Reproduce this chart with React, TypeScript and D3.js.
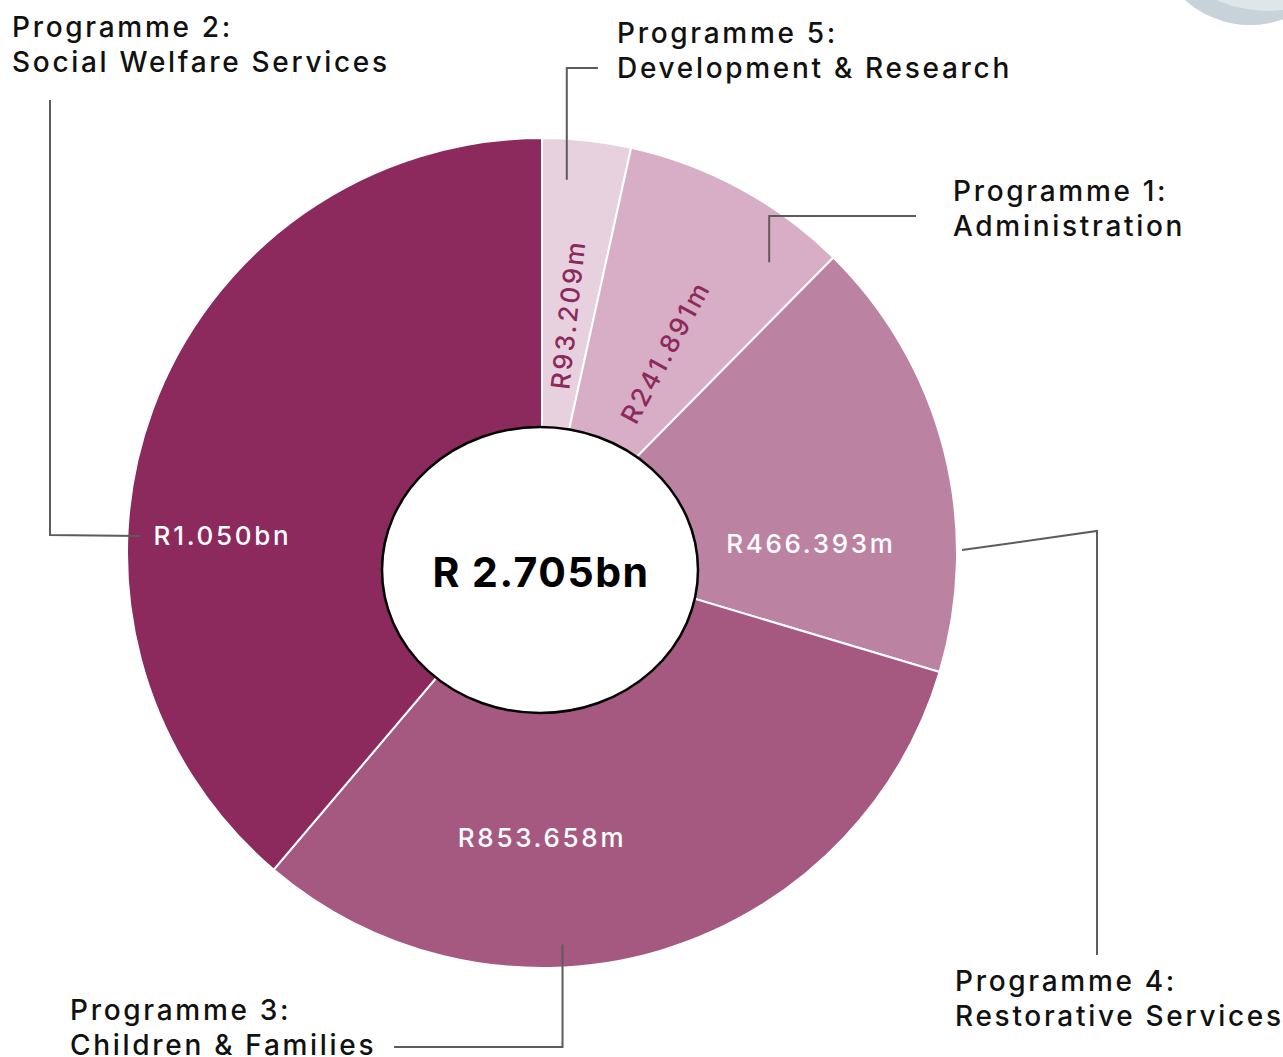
import * as d3 from "d3";

// Budget per programme, R million, in drawing order (clockwise from 12 o'clock)
const programmes = ["Programme 5", "Programme 1", "Programme 4", "Programme 3", "Programme 2"];
const subtitles = [
  "Development & Research",
  "Administration",
  "Restorative Services",
  "Children & Families",
  "Social Welfare Services",
];
const amounts = [93.209, 241.891, 466.393, 853.658, 1050.0];
const amountLabels = ["R93.209m", "R241.891m", "R466.393m", "R853.658m", "R1.050bn"];
const totalLabel = "R 2.705bn";

const W = 1283;
const H = 1057;
const CX = 542;
const CY = 553;
const R = 415;
const FONT = "Inter, 'Noto Sans', sans-serif";

const color = d3
  .scaleOrdinal<string, string>()
  .domain(programmes)
  .range(["#e8d1de", "#d7aec5", "#bc82a2", "#a65980", "#8c295d"]);

// dark labels on the two pale slices
const labelFill = (p: string) =>
  p === "Programme 5" || p === "Programme 1" ? "#8c295d" : "#ffffff";

const rad = (deg: number) => (deg * Math.PI) / 180;
const polar = (deg: number, r: number): [number, number] => [
  CX + r * Math.sin(rad(deg)),
  CY - r * Math.cos(rad(deg)),
];

// where the name labels sit and how the leader lines run to the pie
const nameLayout: Record<string, { x: number; y: number }> = {
  "Programme 5": { x: 617, y: 43 },
  "Programme 1": { x: 953, y: 201 },
  "Programme 4": { x: 955, y: 991 },
  "Programme 3": { x: 70, y: 1020 },
  "Programme 2": { x: 12, y: 37 },
};

const leader = (p: string): [number, number][] => {
  switch (p) {
    case "Programme 5": {
      const a = polar(3.8, 374);
      return [a, [a[0], 68], [598, 68]];
    }
    case "Programme 1": {
      const a = polar(38, 369);
      return [a, [a[0], 216], [916, 216]];
    }
    case "Programme 4": {
      const a = polar(89.6, 420);
      return [a, [1097, 531], [1097, 955]];
    }
    case "Programme 3": {
      const a = polar(177, 392);
      return [a, [a[0], 1047], [394, 1047]];
    }
    default:
      return [[50, 100], [50, 535], [140, 536]];
  }
};

// value labels: radial on the thin slices, flat elsewhere
const valuePos = (p: string, mid: number) => {
  if (p === "Programme 5") return { at: polar(mid, 240), rot: mid - 90 };
  if (p === "Programme 1") return { at: polar(mid + 3, 236), rot: mid - 90 };
  if (p === "Programme 4") return { at: polar(88, 269), rot: 0 };
  if (p === "Programme 3") return { at: polar(180, 284), rot: 0 };
  return { at: polar(273.2, 320), rot: 0 };
};

export default function App() {
  const pie = d3
    .pie<number>()
    .sort(null)
    .value((d) => d);
  const arcs = pie(amounts);
  const arc = d3.arc<d3.PieArcDatum<number>>().innerRadius(0).outerRadius(R);
  const line = d3.line();

  return (
    <div style={{ position: "absolute", left: 0, top: 0, width: W, height: H, background: "#fff" }}>
      <svg width={W} height={H} style={{ display: "block" }} fontFamily={FONT}>
        {/* decorative ring in the top-right corner */}
        <circle cx={1250} cy={-72} r={97} fill="#c7d2d9" />
        <circle cx={1268} cy={-115} r={126} fill="#dfe6ea" />

        <g transform={`translate(${CX},${CY})`}>
          {arcs.map((a, i) => (
            <path
              key={programmes[i]}
              d={arc(a) ?? ""}
              fill={color(programmes[i])}
              stroke="#ffffff"
              strokeWidth={2}
              strokeLinejoin="round"
            />
          ))}
        </g>

        {/* leader lines */}
        {programmes.map((p) => (
          <path
            key={`l-${p}`}
            d={line(leader(p)) ?? ""}
            fill="none"
            stroke="#5c5c5c"
            strokeWidth={2}
          />
        ))}

        {/* centre disc */}
        <ellipse cx={540} cy={570} rx={158} ry={143} fill="#ffffff" stroke="#000" strokeWidth={2.5} />
        <text
          x={541}
          y={587}
          textAnchor="middle"
          fontSize={41}
          fontWeight={700}
          letterSpacing={1.5}
          fill="#000"
        >
          {totalLabel}
        </text>

        {/* values inside slices */}
        {arcs.map((a, i) => {
          const p = programmes[i];
          const mid = ((a.startAngle + a.endAngle) / 2) * (180 / Math.PI);
          const v = valuePos(p, mid);
          return (
            <text
              key={`v-${p}`}
              transform={`translate(${v.at[0]},${v.at[1]}) rotate(${v.rot})`}
              textAnchor="middle"
              dominantBaseline="central"
              fontSize={26}
              fontWeight={500}
              letterSpacing={2.7}
              fill={labelFill(p)}
            >
              {amountLabels[i]}
            </text>
          );
        })}

        {/* programme names */}
        {programmes.map((p, i) => {
          const pos = nameLayout[p];
          return (
            <text
              key={`n-${p}`}
              x={pos.x}
              y={pos.y}
              fontSize={28}
              fontWeight={500}
              letterSpacing={2.7}
              fill="#111"
            >
              <tspan x={pos.x}>{p}:</tspan>
              <tspan x={pos.x} dy={35}>
                {subtitles[i]}
              </tspan>
            </text>
          );
        })}
      </svg>
    </div>
  );
}
